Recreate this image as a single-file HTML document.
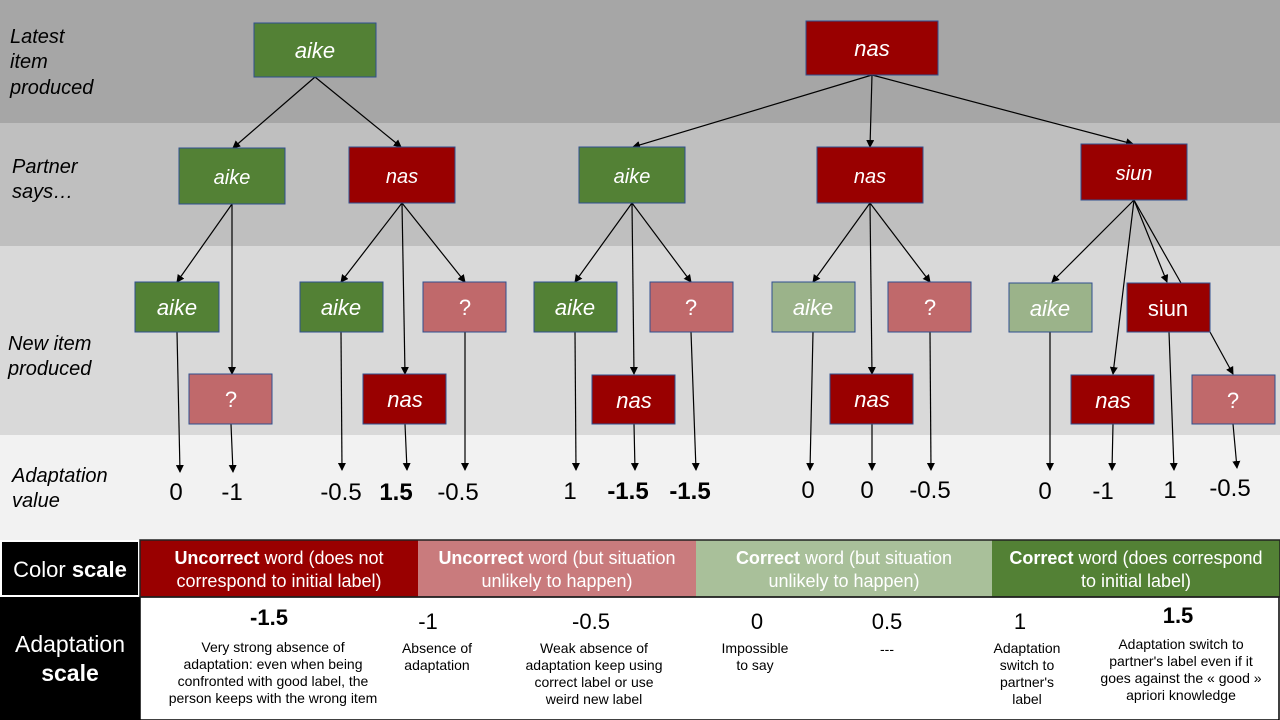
<!DOCTYPE html>
<html><head><meta charset="utf-8"><style>
body{margin:0;width:1280px;height:720px;overflow:hidden;font-family:"Liberation Sans",sans-serif}
svg{display:block}
</style></head><body>
<svg width="1280" height="720" viewBox="0 0 1280 720" font-family="Liberation Sans, sans-serif">
<defs><marker id="a" markerWidth="8" markerHeight="8" refX="7" refY="4" orient="auto" markerUnits="userSpaceOnUse"><path d="M0,0 L8,4 L0,8 z" fill="#000"/></marker></defs>
<rect x="0" y="0" width="1280" height="123" fill="#a6a6a6"/>
<rect x="0" y="123" width="1280" height="123" fill="#bfbfbf"/>
<rect x="0" y="246" width="1280" height="189" fill="#d9d9d9"/>
<rect x="0" y="435" width="1280" height="105" fill="#f2f2f2"/>
<g font-size="20" font-style="italic" fill="#000">
<text x="10" y="43">Latest</text><text x="10" y="68">item</text><text x="10" y="94">produced</text>
<text x="12" y="173">Partner</text><text x="12" y="198">says…</text>
<text x="8" y="350">New item</text><text x="8" y="375">produced</text>
<text x="12" y="482">Adaptation</text><text x="12" y="507">value</text>
</g>
<g stroke="#000" stroke-width="1.2" fill="none" marker-end="url(#a)">
<line x1="315" y1="77" x2="233" y2="148"/><line x1="315" y1="77" x2="401" y2="147"/>
<line x1="872" y1="75" x2="633" y2="147"/><line x1="872" y1="75" x2="870" y2="147"/><line x1="872" y1="75" x2="1133" y2="144"/>
<line x1="232" y1="204" x2="177" y2="282"/><line x1="232" y1="204" x2="232" y2="374"/>
<line x1="402" y1="203" x2="341" y2="282"/><line x1="402" y1="203" x2="405" y2="374"/><line x1="402" y1="203" x2="465" y2="282"/>
<line x1="632" y1="203" x2="575" y2="282"/><line x1="632" y1="203" x2="634" y2="374"/><line x1="632" y1="203" x2="691" y2="282"/>
<line x1="870" y1="203" x2="813" y2="282"/><line x1="870" y1="203" x2="872" y2="374"/><line x1="870" y1="203" x2="930" y2="282"/>
<line x1="1134" y1="200" x2="1052" y2="282"/><line x1="1134" y1="200" x2="1113" y2="374"/><line x1="1134" y1="200" x2="1167" y2="282"/>
<line x1="1210" y1="332" x2="1233" y2="374"/>
<line x1="177" y1="332" x2="180" y2="472"/><line x1="231" y1="424" x2="233" y2="472"/>
<line x1="341" y1="332" x2="342" y2="470"/><line x1="405" y1="424" x2="407" y2="470"/><line x1="465" y1="332" x2="465" y2="470"/>
<line x1="575" y1="332" x2="576" y2="470"/><line x1="634" y1="424" x2="635" y2="470"/><line x1="691" y1="332" x2="696" y2="470"/>
<line x1="813" y1="332" x2="810" y2="470"/><line x1="872" y1="424" x2="872" y2="470"/><line x1="930" y1="332" x2="931" y2="470"/>
<line x1="1050" y1="332" x2="1050" y2="470"/><line x1="1113" y1="424" x2="1112" y2="470"/><line x1="1169" y1="332" x2="1174" y2="470"/><line x1="1233" y1="424" x2="1237" y2="468"/>
</g>
<line x1="1134" y1="200" x2="1181" y2="283" stroke="#000" stroke-width="1.2"/>
<g stroke="#2f4f8f" stroke-width="1">
<rect x="254" y="23" width="122" height="54" fill="#538135"/>
<rect x="806" y="21" width="132" height="54" fill="#990000"/>
<rect x="179" y="148" width="106" height="56" fill="#538135"/>
<rect x="349" y="147" width="106" height="56" fill="#990000"/>
<rect x="579" y="147" width="106" height="56" fill="#538135"/>
<rect x="817" y="147" width="106" height="56" fill="#990000"/>
<rect x="1081" y="144" width="106" height="56" fill="#990000"/>
<rect x="135" y="282" width="84" height="50" fill="#538135"/>
<rect x="300" y="282" width="83" height="50" fill="#538135"/>
<rect x="423" y="282" width="83" height="50" fill="#c0696b"/>
<rect x="534" y="282" width="83" height="50" fill="#538135"/>
<rect x="650" y="282" width="83" height="50" fill="#c0696b"/>
<rect x="772" y="282" width="83" height="50" fill="#9bb38a"/>
<rect x="888" y="282" width="83" height="50" fill="#c0696b"/>
<rect x="1009" y="283" width="83" height="49" fill="#9bb38a"/>
<rect x="1127" y="283" width="83" height="49" fill="#990000"/>
<rect x="189" y="374" width="83" height="50" fill="#c0696b"/>
<rect x="363" y="374" width="83" height="50" fill="#990000"/>
<rect x="592" y="375" width="83" height="49" fill="#990000"/>
<rect x="830" y="374" width="83" height="50" fill="#990000"/>
<rect x="1071" y="375" width="83" height="49" fill="#990000"/>
<rect x="1192" y="375" width="83" height="49" fill="#c0696b"/>
</g>
<g fill="#fff" text-anchor="middle" font-style="italic" font-size="22">
<text x="315" y="58">aike</text><text x="872" y="56">nas</text>
<text x="232" y="184" font-size="20">aike</text><text x="402" y="183" font-size="20">nas</text>
<text x="632" y="183" font-size="20">aike</text><text x="870" y="183" font-size="20">nas</text><text x="1134" y="180" font-size="20">siun</text>
<text x="177" y="315">aike</text><text x="341" y="315">aike</text><text x="575" y="315">aike</text>
<text x="813" y="315">aike</text><text x="1050" y="316">aike</text>
<text x="405" y="407">nas</text><text x="634" y="408">nas</text><text x="872" y="407">nas</text><text x="1113" y="408">nas</text>
</g>
<g fill="#fff" text-anchor="middle" font-size="22">
<text x="465" y="315">?</text><text x="691" y="315">?</text><text x="930" y="315">?</text>
<text x="1168" y="316">siun</text>
<text x="231" y="407">?</text><text x="1233" y="408">?</text>
</g>
<g font-size="24" text-anchor="middle" fill="#000">
<text x="176" y="500">0</text><text x="232" y="500">-1</text><text x="341" y="500">-0.5</text>
<text x="396" y="500" font-weight="bold">1.5</text><text x="458" y="500">-0.5</text>
<text x="570" y="499">1</text><text x="628" y="499" font-weight="bold">-1.5</text><text x="690" y="499" font-weight="bold">-1.5</text>
<text x="808" y="498">0</text><text x="867" y="498">0</text><text x="930" y="498">-0.5</text>
<text x="1045" y="499">0</text><text x="1103" y="499">-1</text><text x="1170" y="498">1</text><text x="1230" y="496">-0.5</text>
</g>
<rect x="0" y="540" width="1280" height="180" fill="#fff"/>
<rect x="1" y="541" width="138" height="55" fill="#000" stroke="#fff" stroke-width="2"/>
<rect x="0" y="597" width="140" height="123" fill="#000"/>
<rect x="140" y="540" width="278" height="57" fill="#990000"/>
<rect x="418" y="540" width="278" height="57" fill="#c97b7d"/>
<rect x="696" y="540" width="296" height="57" fill="#a9c09a"/>
<rect x="992" y="540" width="288" height="57" fill="#538135"/>
<rect x="140" y="597" width="1139" height="123" fill="none" stroke="#000" stroke-width="1.5"/>
<rect x="140" y="540" width="1140" height="57" fill="none" stroke="#222" stroke-width="1.5"/>
<g fill="#fff" text-anchor="middle">
<text x="70" y="577" font-size="22">Color <tspan font-weight="bold">scale</tspan></text>
<text x="70" y="652" font-size="23">Adaptation</text><text x="70" y="681" font-size="23" font-weight="bold">scale</text>
<g font-size="18">
<text x="279" y="564"><tspan font-weight="bold">Uncorrect</tspan> word (does not</text><text x="279" y="587">correspond to initial label)</text>
<text x="557" y="564"><tspan font-weight="bold">Uncorrect</tspan> word (but situation</text><text x="557" y="587">unlikely to happen)</text>
<text x="844" y="564"><tspan font-weight="bold">Correct</tspan> word (but situation</text><text x="844" y="587">unlikely to happen)</text>
<text x="1136" y="564"><tspan font-weight="bold">Correct</tspan> word (does correspond</text><text x="1136" y="587">to initial label)</text>
</g></g>
<g fill="#000" text-anchor="middle">
<g font-size="22"><text x="269" y="625" font-weight="bold">-1.5</text><text x="428" y="629">-1</text><text x="591" y="629">-0.5</text>
<text x="757" y="629">0</text><text x="887" y="629">0.5</text><text x="1020" y="629">1</text><text x="1178" y="623" font-weight="bold">1.5</text></g>
<g font-size="14">
<text x="273" y="652">Very strong absence of</text><text x="273" y="669">adaptation: even when being</text><text x="273" y="686">confronted with good label, the</text><text x="273" y="703">person keeps with the wrong item</text>
<text x="437" y="653">Absence of</text><text x="437" y="670">adaptation</text>
<text x="594" y="653">Weak absence of</text><text x="594" y="670">adaptation keep using</text><text x="594" y="687">correct label or use</text><text x="594" y="704">weird new label</text>
<text x="755" y="653">Impossible</text><text x="755" y="670">to say</text>
<text x="887" y="654">---</text>
<text x="1027" y="653">Adaptation</text><text x="1027" y="670">switch to</text><text x="1027" y="687">partner's</text><text x="1027" y="704">label</text>
<text x="1181" y="649">Adaptation switch to</text><text x="1181" y="666">partner's label even if it</text><text x="1181" y="683">goes against the « good »</text><text x="1181" y="700">apriori knowledge</text>
</g></g>
</svg>
</body></html>
